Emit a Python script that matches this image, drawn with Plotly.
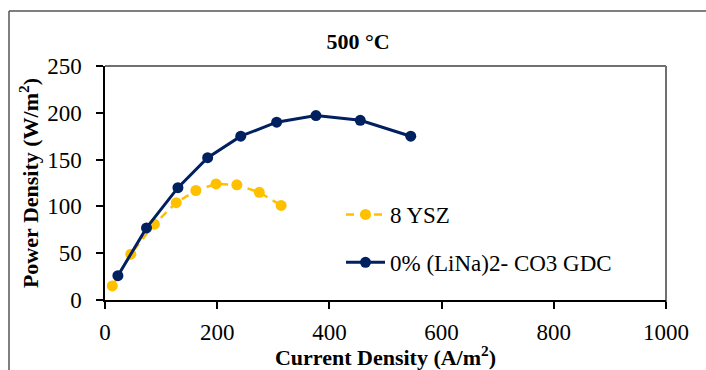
import plotly.graph_objects as go

# Data
ysz_x = [13, 46, 88, 127, 162, 198, 235, 275, 314]
ysz_y = [15, 49, 81, 104, 117, 124, 123, 115, 101]

gdc_x = [23, 74, 130, 183, 242, 306, 376, 455, 545]
gdc_y = [26, 77, 120, 152, 175, 190, 197, 192, 175]

x_ticks = [0, 200, 400, 600, 800, 1000]
y_ticks = [0, 50, 100, 150, 200, 250]

FONT = "Liberation Serif, Times New Roman, serif"
W, H = 706, 370
L, R, T, B = 105, 40, 66, 70
pw, ph = W - L - R, H - T - B

def px_x(p):
    return (p - L) / pw

def px_y(p):
    return (H - B - p) / ph

fig = go.Figure()
fig.add_trace(go.Scatter(
    x=ysz_x, y=ysz_y, mode="lines+markers", name="8 YSZ",
    legendgroup="a",
    line=dict(color="#FFC000", width=2.5, dash="8px,6px"),
    marker=dict(color="#FFC000", size=11, symbol="circle"),
))
fig.add_trace(go.Scatter(
    x=gdc_x, y=gdc_y, mode="lines+markers", name="0% (LiNa)2- CO3 GDC",
    legendgroup="b",
    line=dict(color="#002060", width=3),
    marker=dict(color="#002060", size=11, symbol="circle"),
))

fig.update_layout(
    width=W, height=H,
    margin=dict(l=L, r=R, t=T, b=B, autoexpand=False),
    paper_bgcolor="white", plot_bgcolor="white",
    font=dict(family=FONT, size=23, color="black"),
    title=dict(text="<b>500 °C</b>", x=358 / W, xref="container", xanchor="center",
               y=1 - 41 / H, yref="container", yanchor="middle",
               font=dict(family=FONT, size=22, color="black")),
    showlegend=True,
    legend=dict(x=px_x(341), y=px_y(193), xanchor="left", yanchor="top",
                bgcolor="rgba(0,0,0,0)", font=dict(family=FONT, size=23, color="black"),
                traceorder="grouped", tracegroupgap=15, itemwidth=39),
    xaxis=dict(range=[0, 1000], tickvals=x_ticks, showgrid=False, zeroline=False,
               automargin=False,
               showline=True, linecolor="black", linewidth=1.5,
               ticks="outside", ticklen=7, tickcolor="black", tickwidth=1.5,
               ticklabelstandoff=4,
               tickfont=dict(family=FONT, size=23, color="black"),
               title=dict(text="<b>Current Density (A/m<sup>2</sup>)</b>",
                          font=dict(family=FONT, size=22, color="black"), standoff=11)),
    yaxis=dict(range=[0, 250], tickvals=y_ticks, showgrid=False, zeroline=False,
               automargin=False,
               showline=True, linecolor="black", linewidth=1.5,
               ticks="outside", ticklen=7, tickcolor="black", tickwidth=1.5,
               ticklabelstandoff=10,
               tickfont=dict(family=FONT, size=23, color="black"),
               title=dict(text="<b>Power Density (W/m<sup>2</sup>)</b>",
                          font=dict(family=FONT, size=22, color="black"), standoff=2)),
)

# plot-area top and right border (grey)
fig.add_shape(type="line", xref="paper", yref="paper", x0=0, x1=1, y0=1, y1=1,
              line=dict(color="#707070", width=2), layer="below")
fig.add_shape(type="line", xref="paper", yref="paper", x0=1, x1=1, y0=px_y(304), y1=1,
              line=dict(color="#707070", width=2), layer="below")
# outer chart frame (top and left)
fig.add_shape(type="line", xref="paper", yref="paper", x0=px_x(9), x1=px_x(720),
              y0=px_y(11), y1=px_y(11), line=dict(color="#555555", width=1.5))
fig.add_shape(type="line", xref="paper", yref="paper", x0=px_x(9), x1=px_x(9),
              y0=px_y(11), y1=px_y(390), line=dict(color="#555555", width=1.5))

fig.write_html("out.html")
